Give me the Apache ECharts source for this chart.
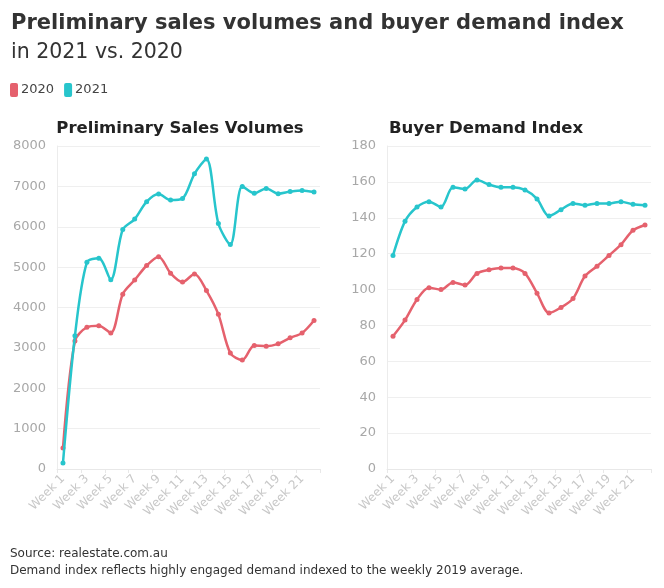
<!DOCTYPE html>
<html><head><meta charset="utf-8">
<script src="https://cdn.jsdelivr.net/npm/echarts@6/dist/echarts.min.js"></script>
<style>html,body{margin:0;padding:0;background:#fff}#c{width:664px;height:588px}</style>
</head><body><div id="c"></div>
<script>
const weeks = Array.from({length:22},(_,i)=>'Week '+(i+1));
const sales2020 = [520,3170,3510,3550,3370,4330,4680,5040,5260,4850,4630,4830,4420,3830,2870,2700,3060,3040,3100,3250,3370,3680];
const sales2021 = [150,3300,5120,5220,4690,5930,6190,6620,6810,6660,6700,7310,7680,6080,5560,7000,6830,6950,6820,6870,6900,6860];
const demand2020 = [74,83,94.5,101,100,104,102.5,109,111,112,112,109,98,87,90,95,107.5,113,119,125,133,136];
const demand2021 = [119,138,146,149,146,157,156,161,158.5,157,157,155.5,150.5,141,144.5,148,147,148,148,149,147.5,147];
const salesTicks = [0,1000,2000,3000,4000,5000,6000,7000,8000];
const demandTicks = [0,20,40,60,80,100,120,140,160,180];

const RED = '#e5616d', CYAN = '#27c5cc';
const FONT = 'DejaVu Sans';
const chart = echarts.init(document.getElementById('c'));
function xAx(gi){return {type:'category',gridIndex:gi,data:weeks,boundaryGap:true,
  axisLine:{lineStyle:{color:'#e8e8e8'}},axisTick:{show:true,lineStyle:{color:'#e8e8e8'},length:4},
  axisLabel:{rotate:45,interval:1,color:'#c8c8c8',fontSize:12,fontFamily:FONT,margin:8}};}
function yAx(gi,ticks){return {type:'value',gridIndex:gi,min:ticks[0],max:ticks[ticks.length-1],interval:ticks[1]-ticks[0],
  axisLine:{show:true,lineStyle:{color:'#ececec'}},axisTick:{show:false},
  splitLine:{lineStyle:{color:'#efefef'}},
  axisLabel:{color:'#a8a8a8',fontSize:13,fontFamily:FONT,margin:11,formatter:v=>String(v)}};}
function ser(name,data,color,gi){return {name,type:'line',data,xAxisIndex:gi,yAxisIndex:gi,smooth:0.3,
  symbol:'circle',symbolSize:5,lineStyle:{width:2.5,color},itemStyle:{color},z:name==='2021'?3:2};}
chart.setOption({
  backgroundColor:'#fff',
  animation:false,
  textStyle:{fontFamily:FONT},
  title:[
    {text:'Preliminary sales volumes and buyer demand index',left:6,top:8,textStyle:{fontSize:21,fontWeight:'bold',color:'#333',fontFamily:FONT}},
    {text:'in 2021 vs. 2020',left:6,top:37,textStyle:{fontSize:20.5,fontWeight:'normal',color:'#333',fontFamily:FONT}},
    {text:'Preliminary Sales Volumes',left:175,top:115,textAlign:'center',textStyle:{fontSize:16.5,fontWeight:'bold',color:'#222',fontFamily:FONT}},
    {text:'Buyer Demand Index',left:481,top:115,textAlign:'center',textStyle:{fontSize:16.5,fontWeight:'bold',color:'#222',fontFamily:FONT}},
    {text:'Source: realestate.com.au',left:5,top:543,textStyle:{fontSize:12,fontWeight:'normal',color:'#333',fontFamily:FONT}},
    {text:'Demand index reflects highly engaged demand indexed to the weekly 2019 average.',left:5,top:560,textStyle:{fontSize:12,fontWeight:'normal',color:'#333',fontFamily:FONT}}
  ],
  legend:{left:5,top:78,icon:'roundRect',itemWidth:8,itemHeight:14,itemGap:10,
    textStyle:{fontSize:13,color:'#444',fontFamily:FONT,padding:[0,0,0,-2]},data:['2020','2021']},
  grid:[{left:57,right:344,top:146,bottom:119},{left:387,right:13,top:146,bottom:119}],
  xAxis:[xAx(0),xAx(1)],
  yAxis:[yAx(0,salesTicks),yAx(1,demandTicks)],
  series:[ser('2020',sales2020,RED,0),ser('2021',sales2021,CYAN,0),ser('2020',demand2020,RED,1),ser('2021',demand2021,CYAN,1)]
});
</script></body></html>
